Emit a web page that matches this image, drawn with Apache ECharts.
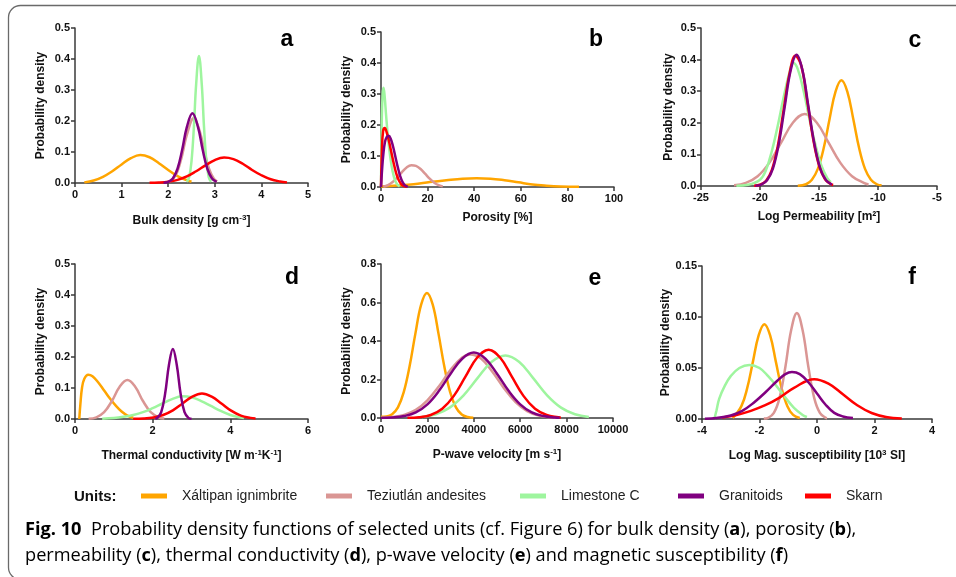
<!DOCTYPE html>
<html><head><meta charset="utf-8">
<script src="https://cdn.jsdelivr.net/npm/echarts@6/dist/echarts.min.js"></script>
<style>html,body{margin:0;padding:0;background:#fff}#c{width:956px;height:577px}</style>
</head><body><div id="c"></div>
<script>
// ---------- DATA ----------
const units = ['Xáltipan ignimbrite', 'Teziutlán andesites', 'Limestone C', 'Granitoids', 'Skarn'];
const unitColors = ['#FFA500', '#DA9694', '#9EF59E', '#800080', '#FF0000'];
const panelLetters = ['a', 'b', 'c', 'd', 'e', 'f'];
const xAxisNames = ['Bulk density [g cm{sup|-3}]', 'Porosity [%]', 'Log Permeability [m²]',
  'Thermal conductivity [W m{sup|-1}K{sup|-1}]', 'P-wave velocity [m s{sup|-1}]', 'Log Mag. susceptibility [10{sup|3} SI]'];
const yAxisName = 'Probability density';

// (a) bulk density
const a_xaltipan = [[0.2,0.002],[0.4,0.008],[0.6,0.02],[0.8,0.038],[1.0,0.06],[1.2,0.08],[1.4,0.09],[1.6,0.083],[1.8,0.064],[2.0,0.042],[2.2,0.022],[2.4,0.009],[2.5,0.004]];
const a_teziutlan = [[2.0,0.003],[2.1,0.012],[2.2,0.038],[2.3,0.09],[2.4,0.155],[2.55,0.21],[2.68,0.165],[2.78,0.1],[2.88,0.045],[2.98,0.014],[3.05,0.005]];
const a_limestone = [[2.4,0.004],[2.45,0.019],[2.5,0.07],[2.55,0.177],[2.6,0.319],[2.66,0.41],[2.72,0.319],[2.77,0.177],[2.82,0.07],[2.87,0.019],[2.92,0.004]];
const a_granitoids = [[1.9,0.0006],[2.0,0.0035],[2.1,0.0148],[2.2,0.046],[2.3,0.107],[2.4,0.18],[2.52,0.225],[2.64,0.18],[2.74,0.107],[2.84,0.046],[2.94,0.0148],[3.04,0.0035]];
const a_skarn = [[1.6,0.0005],[1.8,0.0015],[2.0,0.0042],[2.2,0.01],[2.4,0.021],[2.6,0.038],[2.8,0.057],[3.0,0.074],[3.2,0.082],[3.4,0.077],[3.6,0.062],[3.8,0.042],[4.0,0.025],[4.2,0.012],[4.4,0.005],[4.55,0.002]];
// (b) porosity
const b_xaltipan = [[0,0.002],[7,0.005],[14,0.009],[21,0.016],[28,0.022],[35,0.027],[41,0.028],[47,0.027],[53,0.022],[59,0.015],[65,0.008],[71,0.004],[77,0.0015],[85,0.0005]];
const b_teziutlan = [[1,0.001],[3,0.006],[5,0.016],[7,0.031],[9,0.048],[11,0.063],[13,0.07],[15,0.068],[17,0.058],[19,0.042],[21,0.026],[23,0.013],[25,0.005],[26.5,0.002]];
const b_limestone = [[0,0],[0.3,0.2],[0.7,0.3],[1.1,0.32],[1.6,0.29],[2.2,0.23],[3,0.16],[4,0.095],[5,0.05],[6,0.022],[7,0.008],[8,0.002]];
const b_granitoids = [[0,0],[0.5,0.06],[1,0.105],[1.7,0.145],[2.5,0.162],[3.3,0.165],[4.2,0.155],[5.2,0.13],[6.2,0.097],[7.2,0.064],[8.2,0.036],[9.2,0.017],[10.2,0.006],[11.5,0.001]];
const b_skarn = [[0,0],[0.4,0.12],[0.9,0.18],[1.6,0.19],[2.5,0.175],[3.5,0.145],[4.5,0.11],[5.5,0.075],[6.5,0.045],[7.5,0.024],[8.5,0.011],[9.5,0.004],[11,0]];
// (c) log permeability
const c_xaltipan = [[-16.8,0.0008],[-16.1,0.0056],[-15.6,0.02],[-15.1,0.054],[-14.6,0.12],[-14.1,0.213],[-13.6,0.299],[-13.1,0.335],[-12.6,0.299],[-12.1,0.213],[-11.6,0.12],[-11.1,0.054],[-10.6,0.02],[-10.1,0.0056],[-9.7,0.002]];
const c_teziutlan = [[-22.2,0.0025],[-21.2,0.01],[-20.2,0.031],[-19.2,0.074],[-18.2,0.138],[-17.2,0.201],[-16.2,0.228],[-15.2,0.201],[-14.2,0.138],[-13.2,0.074],[-12.2,0.031],[-11.2,0.01],[-10.8,0.005]];
const c_limestone = [[-22,0.001],[-21,0.004],[-20,0.02],[-19.5,0.05],[-19,0.11],[-18.5,0.19],[-18,0.28],[-17.5,0.36],[-17.2,0.39],[-16.8,0.37],[-16.3,0.3],[-15.8,0.21],[-15.3,0.13],[-14.8,0.065],[-14.3,0.025],[-14,0.012]];
const c_granitoids = [[-20.4,0.0009],[-19.9,0.0046],[-19.4,0.018],[-18.9,0.056],[-18.4,0.135],[-17.9,0.252],[-17.4,0.366],[-16.9,0.415],[-16.4,0.366],[-15.9,0.252],[-15.4,0.135],[-14.9,0.056],[-14.4,0.018],[-13.9,0.0046]];
const c_skarn = [[-20.5,0.001],[-20,0.004],[-19.5,0.016],[-19,0.05],[-18.5,0.125],[-18,0.24],[-17.5,0.355],[-17,0.412],[-16.5,0.38],[-16,0.27],[-15.5,0.15],[-15,0.065],[-14.5,0.022],[-14,0.006],[-13.8,0.003]];
// (d) thermal conductivity
const d_xaltipan = [[0.11,0],[0.14,0.05],[0.18,0.1],[0.24,0.13],[0.34,0.143],[0.45,0.138],[0.6,0.118],[0.75,0.092],[0.9,0.066],[1.05,0.043],[1.2,0.024],[1.35,0.011],[1.5,0.004]];
const d_teziutlan = [[0.35,0.001],[0.55,0.0055],[0.75,0.022],[0.95,0.058],[1.15,0.104],[1.35,0.126],[1.55,0.104],[1.75,0.058],[1.95,0.022],[2.15,0.0055],[2.3,0.0015]];
const d_limestone = [[0.7,0.001],[1.0,0.003],[1.25,0.007],[1.5,0.013],[1.75,0.022],[2.0,0.035],[2.25,0.05],[2.5,0.064],[2.75,0.073],[3.0,0.07],[3.25,0.058],[3.5,0.042],[3.75,0.026],[4.0,0.013],[4.2,0.006],[4.35,0.003]];
const d_granitoids = [[2.07,0.0007],[2.12,0.0037],[2.22,0.022],[2.32,0.081],[2.42,0.175],[2.52,0.226],[2.62,0.175],[2.72,0.081],[2.82,0.022],[2.92,0.0037],[3.0,0.0007]];
const d_skarn = [[1.5,0.0005],[1.77,0.0015],[2.02,0.005],[2.27,0.013],[2.52,0.028],[2.77,0.05],[3.02,0.072],[3.27,0.082],[3.52,0.072],[3.77,0.05],[4.02,0.027],[4.27,0.011],[4.52,0.0036],[4.65,0.002]];
// (e) p-wave velocity
const e_xaltipan = [[0,0.006],[230,0.008],[480,0.02],[730,0.055],[980,0.134],[1230,0.267],[1480,0.437],[1730,0.589],[1980,0.65],[2230,0.589],[2480,0.437],[2730,0.267],[2980,0.134],[3230,0.055],[3480,0.018],[3730,0.005],[3980,0.0012]];
const e_teziutlan = [[0,0.0012],[500,0.005],[1000,0.016],[1500,0.042],[2000,0.092],[2500,0.165],[3000,0.25],[3500,0.315],[3850,0.33],[4300,0.31],[4800,0.24],[5300,0.155],[5800,0.083],[6300,0.036],[6800,0.013],[7300,0.004],[7600,0.002]];
const e_limestone = [[1760,0.0057],[2360,0.0196],[2960,0.054],[3560,0.118],[4160,0.207],[4760,0.291],[5360,0.325],[5960,0.291],[6560,0.207],[7160,0.118],[7760,0.054],[8360,0.0196],[8960,0.0057]];
const e_granitoids = [[0,0.0006],[500,0.0028],[1000,0.01],[1500,0.029],[2000,0.071],[2500,0.141],[3000,0.23],[3500,0.308],[4000,0.34],[4500,0.308],[5000,0.23],[5500,0.141],[6000,0.071],[6500,0.029],[7000,0.01],[7500,0.0028],[7700,0.0015]];
const e_skarn = [[1140,0.0008],[1640,0.0039],[2140,0.0156],[2640,0.048],[3140,0.115],[3640,0.215],[4140,0.313],[4640,0.355],[5140,0.313],[5640,0.215],[6140,0.115],[6640,0.048],[7140,0.0156],[7640,0.0039],[7750,0.003]];
// (f) log magnetic susceptibility
const f_xaltipan = [[-2.93,0.001],[-2.63,0.0126],[-2.43,0.03],[-2.23,0.056],[-2.03,0.082],[-1.83,0.093],[-1.63,0.082],[-1.43,0.056],[-1.23,0.03],[-1.03,0.0126],[-0.83,0.004],[-0.6,0.001]];
const f_teziutlan = [[-1.85,0.0005],[-1.7,0.0012],[-1.5,0.006],[-1.3,0.021],[-1.1,0.051],[-0.9,0.087],[-0.7,0.104],[-0.5,0.087],[-0.3,0.051],[-0.1,0.021],[0.1,0.006],[0.3,0.0012],[0.35,0.0008]];
const f_limestone = [[-3.57,0],[-3.5,0.008],[-3.4,0.02],[-3.2,0.033],[-3.0,0.042],[-2.7,0.05],[-2.35,0.053],[-2.0,0.05],[-1.7,0.042],[-1.4,0.032],[-1.1,0.021],[-0.8,0.011],[-0.5,0.004],[-0.35,0.002]];
const f_granitoids = [[-3.9,0.0003],[-3.5,0.001],[-3.0,0.0035],[-2.6,0.008],[-2.2,0.016],[-1.8,0.026],[-1.4,0.037],[-1.1,0.044],[-0.87,0.046],[-0.6,0.044],[-0.3,0.036],[0.0,0.025],[0.3,0.014],[0.6,0.006],[0.9,0.0025],[1.25,0.001]];
const f_skarn = [[-3.3,0.0015],[-2.8,0.004],[-2.3,0.008],[-1.8,0.0135],[-1.3,0.021],[-0.8,0.0305],[-0.1,0.039],[0.4,0.0347],[0.9,0.0243],[1.4,0.0135],[1.9,0.0059],[2.4,0.002],[2.95,0.0006]];

const panelData = [
  [a_xaltipan, a_teziutlan, a_limestone, a_skarn, a_granitoids],
  [b_xaltipan, b_teziutlan, b_limestone, b_skarn, b_granitoids],
  [c_xaltipan, c_teziutlan, c_limestone, c_skarn, c_granitoids],
  [d_xaltipan, d_teziutlan, d_limestone, d_skarn, d_granitoids],
  [e_xaltipan, e_teziutlan, e_limestone, e_skarn, e_granitoids],
  [f_xaltipan, f_teziutlan, f_limestone, f_skarn, f_granitoids]
];
const seriesUnitIdx = [0, 1, 2, 4, 3]; // draw order: granitoids on top

// axis ranges (min, max, interval) and y label decimals
const xRanges = [[0,5,1],[0,100,20],[-25,-5,5],[0,6,2],[0,10000,2000],[-4,4,2]];
const yRanges = [[0,0.5,0.1],[0,0.5,0.1],[0,0.5,0.1],[0,0.5,0.1],[0,0.8,0.2],[0,0.15,0.05]];
const yDecimals = [1,1,1,1,1,2];

// ---------- LAYOUT ----------
const FONT = '"Liberation Sans", Arial, sans-serif';
const grids = [
  {left:75, top:28, width:233, height:155},
  {left:381, top:32, width:233, height:155},
  {left:701, top:28, width:236, height:158},
  {left:75, top:264, width:233, height:155},
  {left:381, top:264, width:232, height:154},
  {left:702, top:266, width:230, height:153}
];
const yNameGap = [28, 28, 26, 28, 28, 30];
const xNameGap = [31, 25, 25, 30, 30, 30];
const letterPos = [[287,40],[596,40],[915,41],[292,278],[595,279],[912,278]];

const axisLineStyle = {color:'#3a3a3a', width:1.5};
const nameRich = {sup:{fontSize:8, fontWeight:'bold', fontFamily:FONT, color:'#111', verticalAlign:'bottom', padding:[0,0,6,0]}};

const xAxes = [], yAxes = [], series = [], graphics = [];
grids.forEach((g, i) => {
  xAxes.push({
    type:'value', gridIndex:i, min:xRanges[i][0], max:xRanges[i][1], interval:xRanges[i][2],
    name:xAxisNames[i], nameLocation:'middle', nameGap:xNameGap[i],
    nameTextStyle:{fontFamily:FONT, fontWeight:'bold', fontSize:12, color:'#111', rich:nameRich},
    axisLine:{show:true, onZero:false, lineStyle:axisLineStyle},
    axisTick:{show:true, length:4, lineStyle:axisLineStyle},
    axisLabel:{fontFamily:FONT, fontWeight:'bold', fontSize:11, color:'#111', margin:6,
      formatter:(v) => String(v)},
    splitLine:{show:false}
  });
  yAxes.push({
    type:'value', gridIndex:i, min:yRanges[i][0], max:yRanges[i][1], interval:yRanges[i][2],
    name:yAxisName, nameLocation:'middle', nameGap:yNameGap[i],
    nameTextStyle:{fontFamily:FONT, fontWeight:'bold', fontSize:12, color:'#111'},
    axisLine:{show:true, onZero:false, lineStyle:axisLineStyle},
    axisTick:{show:true, length:4, lineStyle:axisLineStyle},
    axisLabel:{fontFamily:FONT, fontWeight:'bold', fontSize:11, color:'#111', margin:5,
      formatter:(v) => v.toFixed(yDecimals[i])},
    splitLine:{show:false}
  });
  panelData[i].forEach((d, k) => {
    const u = seriesUnitIdx[k];
    series.push({
      type:'line', name:units[u], xAxisIndex:i, yAxisIndex:i, data:d,
      smooth:0.4, showSymbol:false, symbol:'none', clip:true,
      lineStyle:{color:unitColors[u], width:2.5}, itemStyle:{color:unitColors[u]},
      emphasis:{disabled:true}
    });
  });
  graphics.push({type:'text', x:letterPos[i][0], y:letterPos[i][1],
    style:{text:panelLetters[i], font:'bold 23px ' + FONT, fill:'#000', textAlign:'center', textVerticalAlign:'middle'}});
});

// frame
graphics.push({type:'rect', shape:{x:8.5, y:5.5, width:1000, height:574, r:[12,0,0,12]},
  style:{fill:'none', stroke:'#6a6a6a', lineWidth:1.3}, z:-1});
// legend title
graphics.push({type:'text', x:74, y:497, style:{text:'Units:', font:'bold 15px ' + FONT, fill:'#111', textVerticalAlign:'middle'}});
// caption
const capFont = '"Open Sans", "Noto Sans", sans-serif';
const CAP = 18.2;
const capRich = {
  n:{fontFamily:capFont, fontSize:CAP, color:'#222'},
  b:{fontFamily:capFont, fontSize:CAP, fontWeight:'bold', color:'#222'},
  l:{fontFamily:capFont, fontSize:CAP, color:'#2a6ebb'}
};
graphics.push({type:'text', x:25, y:530, style:{
  text:'{b|Fig. 10}{n|  Probability density functions of selected units (cf. Figure }{l|6}{n|) for bulk density (}{b|a}{n|), porosity (}{b|b}{n|),}',
  rich:capRich, textVerticalAlign:'middle'}});
graphics.push({type:'text', x:25, y:556, style:{
  text:'{n|permeability (}{b|c}{n|), thermal conductivity (}{b|d}{n|), p-wave velocity (}{b|e}{n|) and magnetic susceptibility (}{b|f}{n|)}',
  rich:capRich, textVerticalAlign:'middle'}});

// legends
const legendLeft = [141, 326, 520, 678, 805];
const legends = units.map((u, i) => ({
  data:[u], left:legendLeft[i], top:489, padding:0, icon:'rect', itemWidth:26, itemHeight:5,
  selectedMode:false, textStyle:{fontFamily:FONT, fontSize:14, color:'#222', padding:[0,0,0,10]}
}));

const chart = echarts.init(document.getElementById('c'), null, {renderer:'canvas'});
chart.setOption({
  animation:false, backgroundColor:'#fff',
  grid:grids, xAxis:xAxes, yAxis:yAxes, series:series, legend:legends, graphic:graphics
});
</script></body></html>
